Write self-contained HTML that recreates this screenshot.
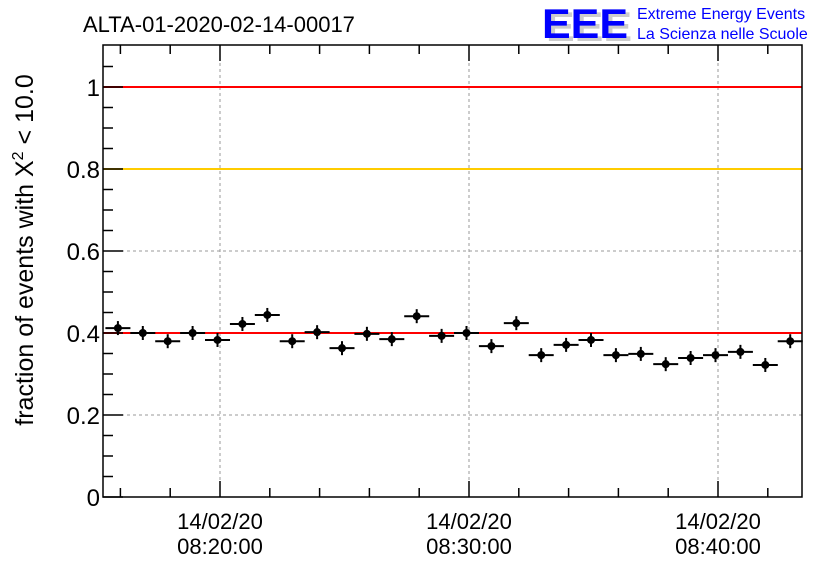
<!DOCTYPE html>
<html><head><meta charset="utf-8"><style>
body{margin:0;background:#fff;}
svg{display:block;font-family:"Liberation Sans",sans-serif;}
</style></head><body>
<svg id="c" width="836" height="572" viewBox="0 0 836 572">
<text x="83" y="32" font-size="22" fill="#000">ALTA-01-2020-02-14-00017</text>
<g>
<text x="546" y="41" font-size="42" font-weight="bold" fill="#ccc" textLength="86" lengthAdjust="spacingAndGlyphs">EEE</text>
<text x="542" y="38" font-size="42" font-weight="bold" fill="#0000ff" textLength="86" lengthAdjust="spacingAndGlyphs">EEE</text>
<text x="637" y="19" font-size="16" fill="#0000ff">Extreme Energy Events</text>
<text x="637" y="39" font-size="16" fill="#0000ff">La Scienza nelle Scuole</text>
</g>
<text transform="translate(33,250) rotate(-90)" text-anchor="middle" font-size="25">fraction of events with X<tspan dy="-10" font-size="16">2</tspan><tspan dy="10"> &lt; 10.0</tspan></text>
<g id="grid"></g><g id="lines"></g><g id="pts"></g><g id="axes"></g>
</svg>
<script>
const times=[0,1,2,3,4,5,6,7,8,9,10,11,12,13,14,15,16,17,18,19,20,21,22,23,24,25,26,27];
const values=[0.412,0.400,0.380,0.400,0.383,0.422,0.444,0.380,0.402,0.363,0.398,0.385,0.441,0.393,0.400,0.368,0.424,0.346,0.371,0.383,0.346,0.349,0.324,0.339,0.346,0.354,0.322,0.380];
const yTicks=[0,0.2,0.4,0.6,0.8,1];
const yTickLabels=["0","0.2","0.4","0.6","0.8","1"];
const xMajor=[0,10,20];
const xMajorLabels=[["14/02/20","08:20:00"],["14/02/20","08:30:00"],["14/02/20","08:40:00"]];
const refLines=[{v:1,c:"#ff0000"},{v:0.8,c:"#ffcc00"},{v:0.4,c:"#ff0000"}];
const firstPoint=-4.1;
const L=103,R=802,T=45,B=497;
const X=m=>220+(m)*24.9;
const Y=v=>B-v*410;
const NS="http://www.w3.org/2000/svg";
function mk(p,t,a){const e=document.createElementNS(NS,t);for(const k in a)e.setAttribute(k,a[k]);p.appendChild(e);return e;}
const g=document.getElementById('grid'),ln=document.getElementById('lines'),pt=document.getElementById('pts'),ax=document.getElementById('axes');
yTicks.forEach((v,i)=>{if(v>0){const e=mk(g,'line',{x1:L,x2:R,y1:Y(v),y2:Y(v),stroke:'#999','stroke-dasharray':'3,3'});}
const t=mk(ax,'text',{x:L-3,y:Y(v)+9,'text-anchor':'end','font-size':'24'});t.textContent=yTickLabels[i];});
xMajor.forEach((m,i)=>{const e=mk(g,'line',{x1:X(m),x2:X(m),y1:T,y2:B,stroke:'#999','stroke-dasharray':'3,3'});
xMajorLabels[i].forEach((s,j)=>{const t=mk(ax,'text',{x:X(m),y:529+j*25,'text-anchor':'middle','font-size':'22'});t.textContent=s;});});
refLines.forEach(r=>{const e=mk(ln,'line',{x1:L,x2:R,y1:Y(r.v),y2:Y(r.v),stroke:r.c,'stroke-width':2});});
times.forEach((t,i)=>{const x=X(firstPoint+t),y=Y(values[i]);const gg=mk(pt,'g',{});
mk(gg,'line',{x1:x-12.5,x2:x+12.5,y1:y,y2:y,stroke:'#000','stroke-width':2});
mk(gg,'line',{x1:x,x2:x,y1:y-7,y2:y+7,stroke:'#000','stroke-width':2});
mk(gg,'circle',{cx:x,cy:y,r:4,fill:'#000'});});
const fr=mk(ax,'rect',{x:L,y:T,width:R-L,height:B-T,fill:'none',stroke:'#000','stroke-width':1.5});
for(let v=0;v<=1.1;v+=0.05){const major=Math.abs(v/0.2-Math.round(v/0.2))<1e-6;mk(ax,'line',{x1:L,x2:L+(major?20:10),y1:Y(v),y2:Y(v),stroke:'#000','stroke-width':1.5});}
for(let m=-10;m<=30;m+=2){const x=X(m);if(x<L||x>R)continue;const major=m%10==0;mk(ax,'line',{x1:x,x2:x,y1:B,y2:B-(major?16:9),stroke:'#000','stroke-width':1.5});mk(ax,'line',{x1:x,x2:x,y1:T,y2:T+(major?16:9),stroke:'#000','stroke-width':1.5});}
</script>
</body></html>
